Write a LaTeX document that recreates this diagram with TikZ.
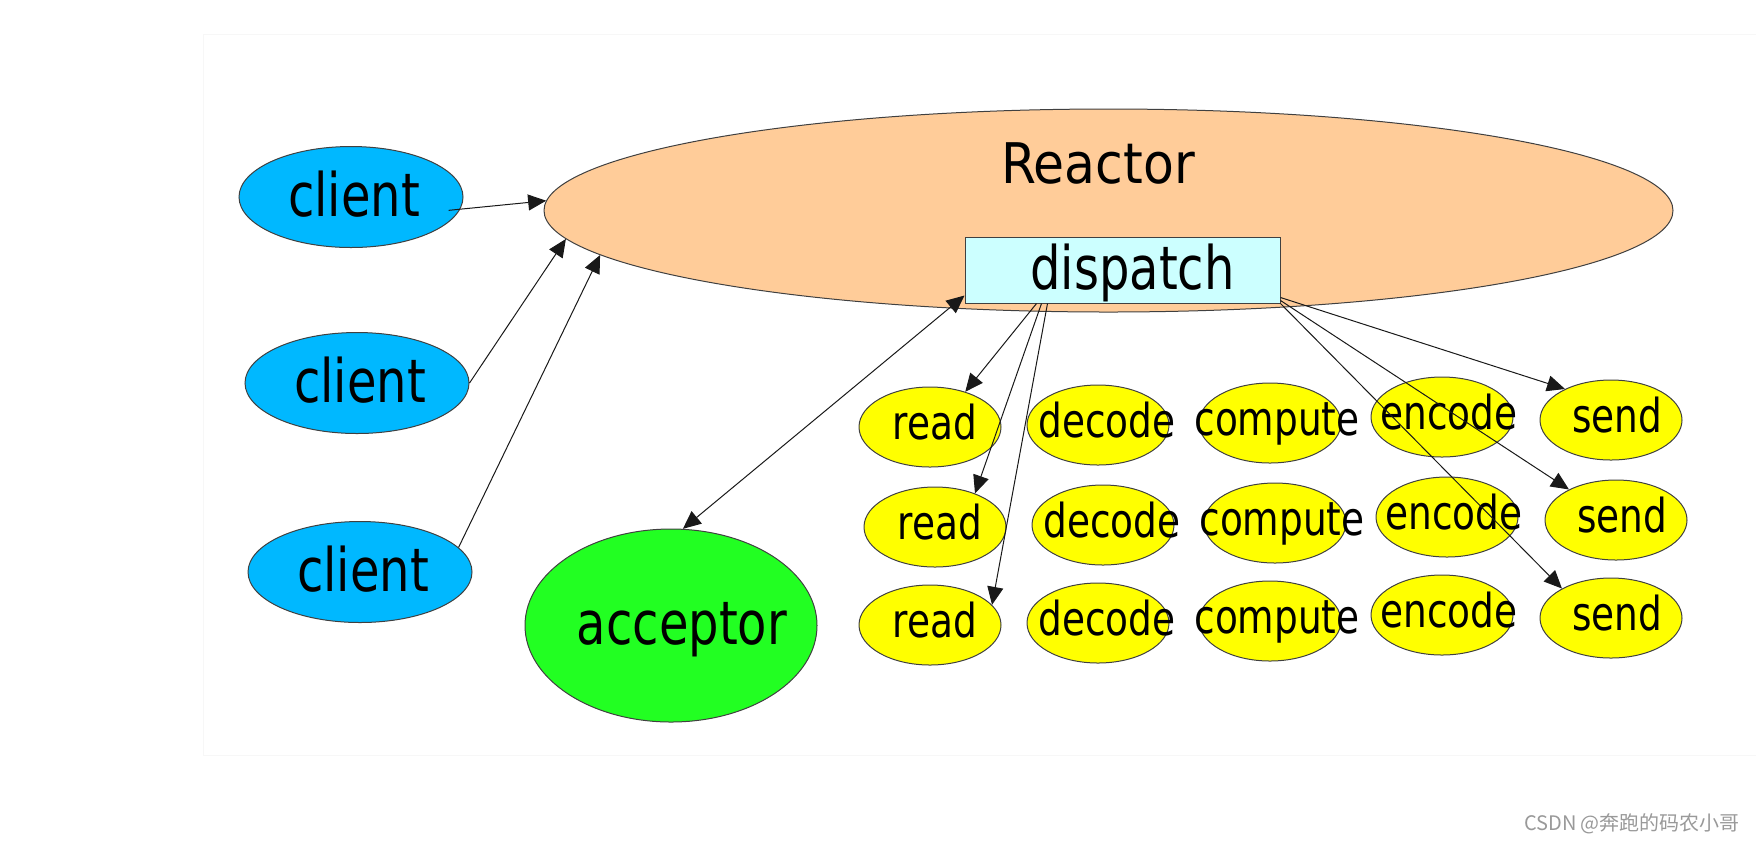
\documentclass[tikz,border=0pt]{standalone}
\usepackage{fontspec}
\setmainfont{DejaVu Sans}[FakeStretch=0.8]
\newfontfamily\titlefont{DejaVu Sans}[FakeStretch=0.9]
\newfontfamily\cjkfont{Noto Sans CJK SC}
\usetikzlibrary{shapes.geometric,arrows.meta}
\definecolor{clientblue}{RGB}{0,184,255}
\definecolor{reactororange}{RGB}{255,204,153}
\definecolor{dispatchcyan}{RGB}{204,255,255}
\definecolor{acceptorgreen}{RGB}{34,255,34}
\definecolor{taskyellow}{RGB}{255,255,0}

\begin{document}
\begin{tikzpicture} [
        x=0.5pt, y=-0.5pt,
        >={Triangle[length=9pt,width=8pt]},
        bubble/.style={ellipse, draw=black!75, line width=0.5pt, inner sep=0pt},
        client/.style={bubble, fill=clientblue, minimum width=112pt, minimum height=50.5pt,
            font=\fontsize{30}{32}\selectfont, text height=22.8pt, text depth=3pt},
        task/.style={bubble, fill=taskyellow, minimum width=71pt, minimum height=40pt,
            font=\fontsize{23.4}{26}\selectfont, text height=17.8pt, text depth=5.1pt},
        link/.style={draw=black!90, line width=0.5pt, ->},
    ]
    \useasboundingbox (0,0) rectangle (1756,843);
    \draw[black!3] (1756,34) -- (203,34) -- (203,755) -- (1756,755);

    \node[bubble, fill=reactororange, minimum width=564.5pt, minimum height=101.5pt] (reactor) at (1108.5,210.5) {};
    \node[font=\titlefont\fontsize{28}{30}\selectfont] (title) at (1098,163) {Reactor};
    \node[draw=black!75, line width=0.5pt, fill=dispatchcyan, minimum width=157.5pt, minimum height=33pt, inner sep=0pt,
        font=\fontsize{30}{32}\selectfont, text height=22.8pt, text depth=3pt] (dispatch) at (1122.5,270) {\hspace{10pt}dispatch};

    \foreach \pos/\name in {
            {(351,197)/c1}, {(357,383)/c2}, {(360,572)/c3}}
        \node[client] (\name) at \pos {\makebox[0pt]{\hspace{3pt}client}};
    \node[bubble, fill=acceptorgreen, minimum width=146pt, minimum height=96.5pt,
        font=\fontsize{30}{32}\selectfont, text height=22.8pt, text depth=3.9pt] (acceptor) at (671,625.5)
        {\makebox[0pt]{\hspace{11pt}acceptor}};

    \foreach \name/\x/\y/\tx in {
            read/930/427/5, decode/1098/425/9, compute/1270/423/7, encode/1442/417/7, send/1611/420/6}
        \foreach \row/\dx/\dy in {1/0/0, 2/5/100, 3/0/198}
            \node[task] (\name\row) at (\x+\dx,\y+\dy) {\makebox[0pt]{\hspace{\tx pt}\name}};

    \draw[link] ([xshift=-5.5pt]c1.-7) -- (reactor.179);
    \draw[link] (c2.east) -- (reactor.183);
    \draw[link] (c3.14) -- (reactor.185);
    \draw[link, <->] (acceptor.83) -- ([yshift=4pt]dispatch.south west);
    \foreach \i/\s/\a in {1/36/45, 2/38.5/40, 3/41.5/18}
        \draw[link] ([xshift=\s pt]dispatch.south west) -- (read\i.\a);
    \foreach \i/\s/\a in {1/3/146, 2/1.5/147, 3/0/149}
        \draw[link] ([yshift=\s pt]dispatch.south east) -- (send\i.\a);

    \node[font=\cjkfont\fontsize{10}{12}\selectfont, text=black!40] (mark) at (1632,824) {CSDN @奔跑的码农小哥};
\end{tikzpicture}
\end{document}
